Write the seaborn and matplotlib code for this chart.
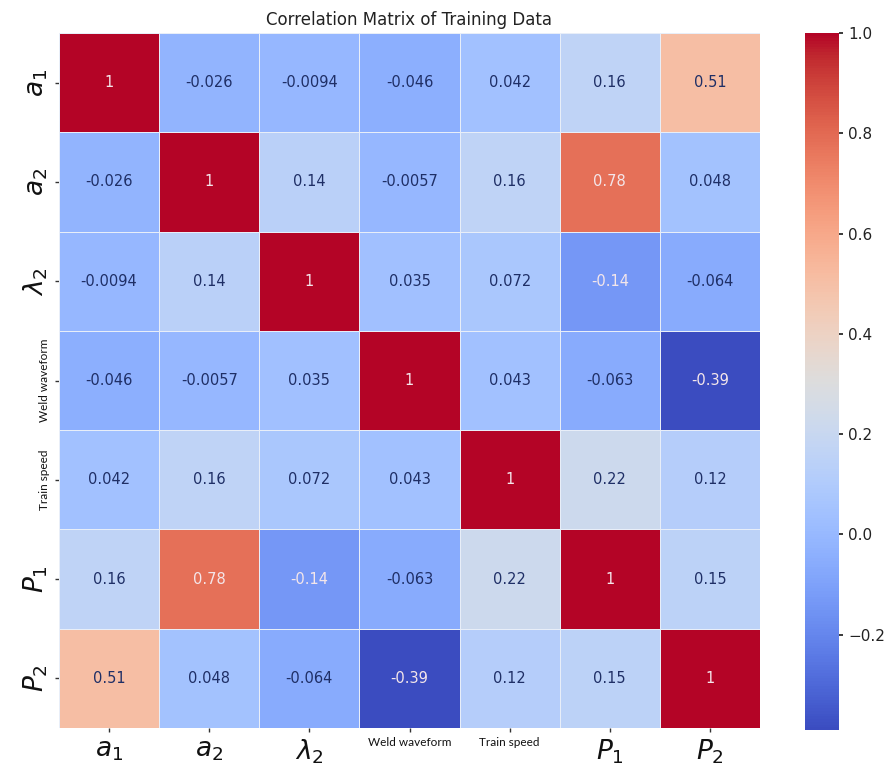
import numpy as np
import pandas as pd
import matplotlib
matplotlib.use("Agg")
import matplotlib.pyplot as plt
import seaborn as sns

labels = [r"$a_1$", r"$a_2$", r"$\lambda_2$", "Weld waveform", "Train speed", r"$P_1$", r"$P_2$"]
row_a1 = [1, -0.026, -0.0094, -0.046, 0.042, 0.16, 0.51]
row_a2 = [-0.026, 1, 0.14, -0.0057, 0.16, 0.78, 0.048]
row_l2 = [-0.0094, 0.14, 1, 0.035, 0.072, -0.14, -0.064]
row_weld = [-0.046, -0.0057, 0.035, 1, 0.043, -0.063, -0.39]
row_train = [0.042, 0.16, 0.072, 0.043, 1, 0.22, 0.12]
row_p1 = [0.16, 0.78, -0.14, -0.063, 0.22, 1, 0.15]
row_p2 = [0.51, 0.048, -0.064, -0.39, 0.12, 0.15, 1]
title = "Correlation Matrix of Training Data"
cbar_ticks = [-0.2, 0.0, 0.2, 0.4, 0.6, 0.8, 1.0]

corr = pd.DataFrame([row_a1, row_a2, row_l2, row_weld, row_train, row_p1, row_p2],
                    index=labels, columns=labels)

sns.set_theme(style="white")
plt.rcParams["font.family"] = ["DejaVu Sans"]

fig = plt.figure(figsize=(8.91, 7.79), dpi=100)
ax = fig.add_axes([59/891, 1 - 728/779, 701/891, 695/779])
cax = fig.add_axes([805/891, 1 - 730/779, 34/891, 697/779])

sns.heatmap(corr, ax=ax, cbar_ax=cax, cmap="coolwarm", annot=True, fmt=".2g",
            linewidths=0.5, linecolor="#e8eef8", annot_kws={"size": 10.5},
            cbar_kws={"ticks": cbar_ticks})

for t in ax.texts:
    c = matplotlib.colors.to_rgb(t.get_color())
    if sum(c) < 1.5:
        t.set_color("#1f2f66")
    else:
        t.set_color("#f4e6ea")

ax.set_title(title, fontsize=12, color="#222222", pad=6)
ax.tick_params(axis="both", length=3, width=1, color="#333333", bottom=True, left=True)

for lab in ax.get_xticklabels():
    lab.set_rotation(0)
    if lab.get_text().startswith("$"):
        lab.set_fontsize(19)
    else:
        lab.set_fontsize(8.5)
        lab.set_family(["Lato", "DejaVu Sans"])
    lab.set_color("#111111")
for lab in ax.get_yticklabels():
    lab.set_rotation(90)
    lab.set_va("center")
    if lab.get_text().startswith("$"):
        lab.set_fontsize(19)
    else:
        lab.set_fontsize(8.5)
        lab.set_family(["Lato", "DejaVu Sans"])
    lab.set_color("#111111")

cax.tick_params(labelsize=11, length=3, colors="#222222")
cbar = ax.collections[0].colorbar
cbar.outline.set_visible(False)

fig.savefig("out.png", dpi=100)
